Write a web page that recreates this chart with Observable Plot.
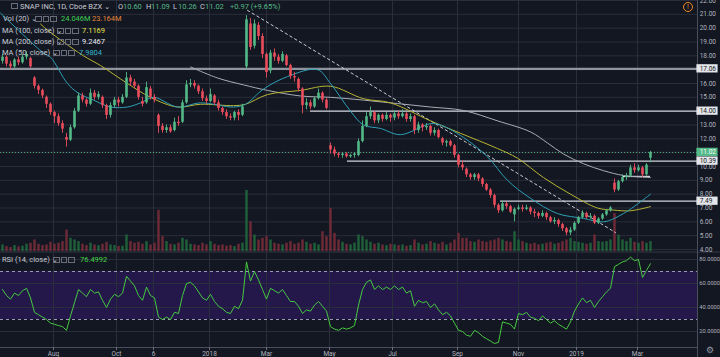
<!DOCTYPE html>
<html><head><meta charset="utf-8">
<script src="https://cdn.jsdelivr.net/npm/d3@7"></script>
<script src="https://cdn.jsdelivr.net/npm/@observablehq/plot@0.6"></script>
<style>
html,body{margin:0;padding:0;background:#131722;}
#wrap{position:relative;width:720px;height:357px;overflow:hidden;background:#131722;font-family:Roboto,"DejaVu Sans",sans-serif;}
.layer{position:absolute;left:0;}
.layer svg{display:block;}
.lg{position:absolute;font-size:7.5px;line-height:9px;color:#c8cbd3;white-space:nowrap;}
.bx{position:absolute;width:4.5px;height:4.5px;border:1px solid #6a6e7a;}
</style></head><body>
<div id="wrap"></div>
<script>
// ---------- data ----------
// candle index i -> one candle every ~2.7 trading days
const candleO = [17.6,17.9,17.4,17.2,17.7,17.5,17.9,17.8,16.4,15.8,15.5,15.0,14.5,13.9,13.6,13.1,12.1,11.9,12.8,14.0,15.1,14.8,14.5,15.3,15.0,15.0,14.4,13.7,14.4,14.8,14.6,15.0,16.4,16.1,15.8,14.7,14.6,15.6,15.0,13.7,12.9,12.6,12.8,12.6,13.2,13.2,14.6,15.9,16.0,15.8,15.4,14.9,14.7,15.1,14.6,14.2,13.9,13.6,13.5,13.9,13.7,17.2,20.3,18.7,20.2,19.4,18.1,16.9,18.2,17.9,17.6,18.0,17.3,16.5,16.3,15.6,14.4,14.6,14.3,14.9,15.3,14.8,11.5,11.2,10.9,10.8,10.9,10.7,10.8,10.8,11.8,12.9,13.6,13.9,13.3,13.7,13.4,13.7,13.5,13.8,13.6,13.8,13.4,13.6,12.6,13.0,12.8,12.9,12.4,12.6,12.0,11.7,11.8,11.5,10.8,10.1,9.8,9.4,9.2,9.4,9.1,8.7,8.3,7.9,7.2,6.8,7.3,7.1,6.5,6.9,7.0,6.9,7.0,6.7,6.6,6.4,6.6,6.3,6.0,6.1,5.8,5.5,5.2,5.4,5.9,6.3,6.6,6.3,6.4,5.9,6.2,6.5,6.8,8.8,8.3,8.9,9.2,9.3,9.9,9.7,9.9,9.4,10.60];
const candleH = [18.1,18.0,17.6,17.8,17.9,18.1,18.3,17.9,16.5,15.9,15.6,15.1,14.6,14.0,13.8,13.3,12.4,13.0,14.2,15.3,15.3,14.9,15.6,15.5,15.4,15.1,14.5,14.6,15.0,15.0,15.2,16.8,16.6,16.3,15.9,15.0,16.1,15.8,15.2,13.8,13.1,13.0,13.0,13.5,13.6,14.8,16.2,16.3,16.2,15.9,15.6,15.1,15.6,15.2,14.8,14.3,14.1,13.8,14.0,14.1,14.5,20.9,20.7,20.6,20.4,19.6,18.2,18.4,18.5,18.1,18.3,18.1,17.4,16.8,16.4,15.7,14.9,14.8,15.0,15.6,15.4,14.9,11.7,11.4,11.0,11.0,11.0,10.9,11.0,12.0,13.3,13.9,14.3,14.0,13.8,13.8,13.9,13.8,14.0,14.0,14.1,13.9,13.8,13.7,13.2,13.1,13.1,13.0,12.8,12.7,12.1,11.9,11.9,11.6,10.9,10.4,9.9,9.5,9.5,9.5,9.2,8.8,8.4,8.0,7.3,7.5,7.4,7.2,7.0,7.2,7.2,7.2,7.1,6.9,6.7,6.8,6.7,6.4,6.3,6.2,5.9,5.6,5.6,6.0,6.4,6.8,6.7,6.6,6.5,6.3,6.6,6.9,7.1,9.1,9.0,9.4,9.5,10.1,10.2,10.1,10.0,10.2,11.09];
const candleL = [17.4,17.2,17.0,17.1,17.3,17.4,17.7,17.1,15.6,15.2,14.9,14.2,13.7,13.1,12.9,12.4,11.4,11.8,12.7,13.9,14.6,14.3,14.4,14.8,14.8,14.2,13.4,13.5,14.2,14.3,14.5,14.9,15.8,15.6,14.8,14.3,14.5,14.8,14.6,12.4,12.4,12.4,12.4,12.5,12.9,13.1,14.5,15.7,15.6,15.2,14.7,14.5,14.6,14.4,14.0,13.7,13.4,13.3,13.3,13.3,13.6,17.0,18.4,18.5,19.1,17.8,16.4,16.7,17.6,17.4,17.5,17.2,16.3,16.1,15.4,13.8,14.1,14.1,14.2,14.8,14.6,14.1,10.9,10.7,10.6,10.6,10.6,10.6,10.6,10.7,11.7,12.8,13.4,13.1,13.1,13.2,13.3,13.2,13.3,13.4,13.5,13.2,13.2,12.3,12.4,12.5,12.6,12.2,12.2,12.0,11.5,11.4,11.4,10.6,9.9,9.7,9.2,9.0,9.0,8.9,8.5,8.2,7.7,7.0,6.6,6.7,6.9,6.6,6.0,6.8,6.7,6.8,6.5,6.3,6.2,6.3,6.1,5.9,5.8,5.6,5.3,5.0,5.0,5.3,5.8,6.2,6.2,6.2,5.8,5.8,6.1,6.4,6.7,8.1,8.2,8.8,9.0,9.2,9.5,9.6,9.2,9.3,10.26];
const candleC = [17.9,17.4,17.2,17.7,17.5,17.9,18.1,17.2,15.8,15.5,15.1,14.5,13.9,13.6,13.1,12.7,11.9,12.8,14.0,15.1,14.8,14.5,15.3,15.0,15.2,14.4,13.7,14.4,14.8,14.6,15.0,16.4,16.1,15.8,15.0,14.5,15.7,15.0,14.8,12.9,12.6,12.8,12.5,13.2,13.1,14.6,15.9,16.0,15.8,15.4,14.9,14.7,15.2,14.6,14.2,13.9,13.6,13.5,13.9,13.7,14.3,20.6,18.6,20.3,19.4,18.1,16.8,18.2,17.9,17.6,18.1,17.3,16.5,16.4,15.6,14.4,14.6,14.3,14.9,15.3,14.8,14.2,11.2,10.9,10.8,10.9,10.7,10.8,10.9,11.8,12.9,13.6,13.9,13.3,13.7,13.4,13.7,13.5,13.8,13.6,13.8,13.4,13.6,12.6,13.0,12.8,12.9,12.4,12.6,12.1,11.7,11.8,11.5,10.8,10.1,9.9,9.4,9.2,9.4,9.1,8.7,8.3,7.9,7.2,6.8,7.3,7.1,6.7,6.9,7.0,6.9,7.0,6.7,6.6,6.4,6.6,6.3,6.0,6.1,5.8,5.5,5.2,5.4,5.9,6.3,6.6,6.3,6.4,5.9,6.2,6.5,6.8,7.0,8.3,8.9,9.2,9.3,9.9,9.7,9.9,9.4,10.1,11.02];
// volume, millions
const volume = [20,15,12,18,14,16,22,25,35,22,18,20,28,22,25,30,65,40,35,30,22,18,25,20,18,22,28,20,18,15,16,50,30,25,28,22,30,20,25,125,45,30,22,20,25,40,35,22,20,18,25,20,30,22,18,20,16,18,15,22,25,185,90,50,35,40,45,35,25,22,20,25,30,22,25,35,28,22,25,20,60,45,130,55,35,28,22,20,25,50,45,35,28,22,25,20,18,22,20,18,20,16,18,35,25,20,22,30,25,22,28,20,25,35,55,40,40,30,28,35,30,28,32,35,40,35,30,28,60,35,30,25,22,25,20,22,25,28,22,25,30,35,40,30,28,25,22,25,50,30,28,30,35,115,50,35,30,40,28,25,30,25,30];
// RSI(14)
const rsi = [55,50,47,52,50,54,56,48,36,34,32,30,27,26,25,24,21,33,44,55,52,49,55,52,53,46,40,47,51,49,52,66,62,58,50,46,57,50,48,32,30,32,30,36,35,50,60,61,58,53,48,46,51,45,41,39,36,35,41,39,46,78,62,70,63,55,47,56,54,52,55,50,45,45,41,35,38,37,42,45,41,37,24,22,21,23,22,23,25,42,55,61,63,55,58,55,57,55,58,55,57,52,54,41,46,44,45,40,43,38,34,36,33,27,21,20,17,16,21,19,16,14,12,10,11,28,27,26,22,35,34,36,32,31,29,33,30,27,29,26,24,22,28,37,43,48,44,46,40,45,49,53,56,74,76,78,79,82,79,80,65,71,76.5];
// moving averages (candle index, value)
const ma50Idx = [-0.5,10.25,12,16.25,19,22.75,27,31.25,34.5,37.75,43.75,49.5,57.75,60.75,65.25,71.25,78.75,82,87,90.25,94.5,99.5,107,109.5,115.25,121.25,126.25,132,138.75,145.25,150.25,155.25,162];
const ma50Val = [21.1,18.2,17.9,16.0,15.3,14.8,14.3,14.3,14.6,15.0,14.3,14.6,14.3,14.5,15.6,16.5,17.0,16.0,14.0,13.0,12.75,12.3,13.1,13.0,12.1,10.7,9.0,7.7,6.6,6.25,6.0,6.6,8.0];
const ma100Idx = [9.5,11.5,15.25,20.25,24.5,31.25,37,43.75,49.5,57.75,60.75,66.25,74.5,82,90.25,97,107,114.5,123.75,128.75,135.25,142,148.75,152.75,157,162];
const ma100Val = [20.3,19.8,19.0,18.0,17.3,16.0,15.0,14.3,14.5,14.4,14.5,15.2,15.5,15.8,14.9,14.6,13.3,12.4,11.3,10.6,9.2,8.0,7.0,6.85,6.8,7.1];
const ma200Idx = [47,53.75,60.25,66.25,74.5,82,90.25,98.75,107,115.25,123.75,132,136.25,140.25,145.25,150.25,155.25,162];
const ma200Val = [17.2,16.4,15.9,15.5,15.1,15.0,14.8,14.55,14.3,14.05,13.3,12.5,11.7,10.9,10.2,9.7,9.35,9.2];
// drawn levels and trend line
const levelPrice = [17.06, 14.00, 10.39, 7.49, 9.28];
const levelStart = [-0.5, 77, 86.25, 124.5, 155.25];
const levelEnd = [173.75, 173.75, 173.75, 173.75, 162];
const trendIdx = [61.25, 153.25];
const trendPrice = [21.29, 5.23];
const lastPrice = 11.02;
const boxLabels = [17.06, 14.00, 11.02, 10.39, 7.49];
// axes
const priceTicks = d3.range(4, 23);
const rsiTicks = [20, 40, 60, 80];
const timeTickIdx = [12.75, 28.5, 37.75, 51.75, 66, 81.75, 97.5, 113.75, 129, 143.5, 158.75];
const timeTickLabels = ["Aug","Oct","6","2018","Mar","May","Jul","Sep","Nov","2019","Mar"];

// ---------- layout / style ----------
const X_DOMAIN = [-0.5, 179.5];   // full 720px width
const AXIS_X = 173.75;            // right price-axis line
const LABEL_X = 174.3;
const UP = "#53b987", DOWN = "#eb4d5c";
const GRID = "#2a2e3a";
const TXT = "#b2b5be";
const AX_FS = 6.5;
const FONT = "Roboto, 'DejaVu Sans', sans-serif";

const candles = candleC.map((c, i) => ({i, o: candleO[i], h: candleH[i], l: candleL[i], c, v: volume[i], up: c >= candleO[i]}));

const wrap = document.getElementById("wrap");
function addLayer(svg, top) {
  const d = document.createElement("div");
  d.className = "layer"; d.style.top = top + "px";
  d.appendChild(svg); wrap.appendChild(d);
}
const base = {width: 720, marginLeft: 0, marginRight: 0, style: {background: "transparent", fontFamily: FONT}};

// grid layer for price panel
addLayer(Plot.plot({...base, height: 253, marginTop: 0, marginBottom: 4,
  x: {domain: X_DOMAIN, axis: null}, y: {domain: [4, 22], axis: null},
  marks: [
    Plot.ruleY(priceTicks, {y: d => d, x1: -0.5, x2: AXIS_X, stroke: GRID}),
    Plot.ruleX(timeTickIdx, {x: d => d, y1: 3.85, y2: 22.5, stroke: GRID})
  ]}), 0);

// volume layer
addLayer(Plot.plot({...base, height: 253, marginTop: 185, marginBottom: 2,
  x: {domain: X_DOMAIN, axis: null}, y: {domain: [0, 200], axis: null},
  marks: [
    Plot.ruleX(candles, {x: "i", y1: 0, y2: "v", stroke: d => d.up ? "#1f6038" : "#6e2a36", strokeWidth: 2.4})
  ]}), 0);

// price layer
addLayer(Plot.plot({...base, height: 253, marginTop: 0, marginBottom: 4,
  x: {domain: X_DOMAIN, axis: null}, y: {domain: [4, 22], axis: null},
  marks: [
    Plot.ruleY([lastPrice], {y: d => d, x1: -0.5, x2: AXIS_X, stroke: UP, strokeDasharray: "1,2", strokeWidth: 1}),
    Plot.ruleY(levelPrice, {y: d => d, x1: (d, i) => levelStart[i], x2: (d, i) => levelEnd[i],
      stroke: (d, i) => i === 0 ? "#8f939e" : "#d1d4dc", strokeWidth: (d, i) => i === 0 ? 2.2 : 1.3}),
    Plot.line(trendIdx, {x: d => d, y: (d, i) => trendPrice[i], stroke: "#c8cbd3", strokeDasharray: "2.5,3", strokeWidth: 1}),
    Plot.line(ma200Idx, {x: d => d, y: (d, i) => ma200Val[i], curve: "catmull-rom", stroke: "#a9acb5", strokeWidth: 1}),
    Plot.line(ma100Idx, {x: d => d, y: (d, i) => ma100Val[i], curve: "catmull-rom", stroke: "#b8b534", strokeWidth: 1}),
    Plot.line(ma50Idx, {x: d => d, y: (d, i) => ma50Val[i], curve: "catmull-rom", stroke: "#2d9fb5", strokeWidth: 1}),
    Plot.ruleX(candles, {x: "i", y1: "l", y2: "h", stroke: d => d.up ? UP : DOWN, strokeWidth: 0.9}),
    Plot.ruleX(candles, {x: "i", y1: "o", y2: "c", stroke: d => d.up ? UP : DOWN, strokeWidth: 2.6}),
    Plot.ruleY([3.82], {y: d => d, x1: -0.5, x2: 179.5, stroke: "#363a46", strokeWidth: 1}),
    Plot.ruleX([AXIS_X], {x: d => d, y1: 3.6, y2: 22.5, stroke: "#4a4e5a"}),
    Plot.text(priceTicks, {x: LABEL_X, y: d => d, text: d => d.toFixed(2), textAnchor: "start", fill: TXT, fontSize: AX_FS}),
    Plot.rect(boxLabels, {x1: 173.6, x2: 178.9, y1: d => d - 0.3, y2: d => d + 0.3,
      fill: d => d === lastPrice ? UP : "#e3e5ea"}),
    Plot.text(boxLabels, {x: LABEL_X, y: d => d, text: d => d.toFixed(2), textAnchor: "start", fontSize: AX_FS,
      fill: d => d === lastPrice ? "#ffffff" : "#131722"})
  ]}), 0);

// RSI + time axis
const R0 = 6.67, R1 = 85;
addLayer(Plot.plot({...base, height: 104, marginTop: 0, marginBottom: 10,
  x: {domain: X_DOMAIN, axis: null}, y: {domain: [R0, R1], axis: null},
  marks: [
    Plot.rect([0], {x1: -0.5, x2: AXIS_X, y1: 30, y2: 70, fill: "#24184a"}),
    Plot.ruleY(rsiTicks, {y: d => d, x1: -0.5, x2: AXIS_X, stroke: GRID}),
    Plot.ruleX(timeTickIdx, {x: d => d, y1: R0, y2: R1, stroke: GRID}),
    Plot.ruleY([30, 70], {y: d => d, x1: -0.5, x2: AXIS_X, stroke: "#9c98b8", strokeDasharray: "3,3"}),
    Plot.line(rsi, {x: (d, i) => i, y: d => d, stroke: "#45c93f", strokeWidth: 1}),
    Plot.ruleY([R0], {y: d => d, x1: -0.5, x2: AXIS_X, stroke: "#4a4e5a"}),
    Plot.ruleX(timeTickIdx, {x: d => d, y1: R0, y2: R0 - 2.6, stroke: "#6a6e7a"}),
    Plot.text(timeTickIdx, {x: d => d, y: R0, dy: 6, text: (d, i) => timeTickLabels[i], fill: TXT, fontSize: AX_FS}),
    Plot.ruleX([AXIS_X], {x: d => d, y1: -5, y2: R1, stroke: "#4a4e5a"}),
    Plot.text(rsiTicks, {x: 174.2, y: d => d, text: d => d.toFixed(4), textAnchor: "start", fill: TXT, fontSize: 5.7})
  ]}), 253);

// ---------- legend (HTML text) ----------
function lg(x, y, text, color, size) {
  const s = document.createElement("div");
  s.className = "lg"; s.style.left = x + "px"; s.style.top = y + "px";
  if (color) s.style.color = color;
  if (size) s.style.fontSize = size + "px";
  s.textContent = text; wrap.appendChild(s); return s;
}
function boxes(x, y) {
  for (let k = 0; k < 3; k++) {
    const b = document.createElement("div");
    b.className = "bx"; b.style.left = (x + k * 7.5) + "px"; b.style.top = y + "px";
    wrap.appendChild(b);
  }
}
const G = "#53b987";
const sq = document.createElement("div");
sq.className = "bx"; sq.style.left = "11px"; sq.style.top = "2.5px"; wrap.appendChild(sq);
lg(20, 1.5, "SNAP INC, 1D, Cboe BZX \u2304");
const ohlc = [["O", "10.60", 118], ["H", "11.09", 146], ["L", "10.26", 173], ["C", "11.02", 200]];
ohlc.forEach(([k, v, x]) => { lg(x, 1.5, k, "#c8cbd3"); lg(x + 5, 1.5, v, G); });
lg(230, 1.5, "+0.97 (+9.65%)", G);

lg(3, 13.5, "Vol (20) \u2304"); boxes(35, 15.5); lg(61, 13.5, "24.046M", "#3fcf55"); lg(92, 13.5, "23.164M", "#e3873c");
lg(2, 25.5, "MA (100, close) \u2304"); boxes(57, 27.5); lg(82, 25.5, "7.1169", "#e8e24c");
lg(2, 36.5, "MA (200, close) \u2304"); boxes(57, 38.5); lg(82, 36.5, "9.2467", "#e6e8ee");
lg(2, 47.5, "MA (50, close) \u2304"); boxes(53, 49.5); lg(79, 47.5, "7.9804", "#35b7cb");
lg(2, 254.5, "RSI (14, close) \u2304"); boxes(53, 256.5); lg(80, 254.5, "76.4992", "#45d445");

// alert icon and gear
const al = document.createElement("div");
al.style.cssText = "position:absolute;left:683px;top:2px;width:8px;height:8px;border:1px solid #f08a24;border-radius:50%;color:#f08a24;font-size:7px;line-height:8px;text-align:center;font-family:" + FONT;
al.textContent = "!"; wrap.appendChild(al);
lg(706, 346, "\u2699", "#9598a1", 9);
</script></body></html>
